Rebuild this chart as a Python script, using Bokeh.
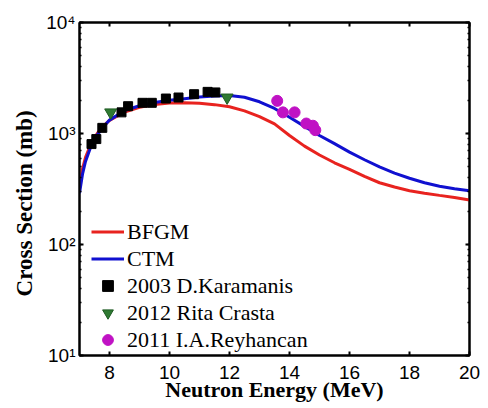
from bokeh.plotting import figure
from bokeh.models import LinearAxis, LogAxis, FixedTicker, Legend, LegendItem, LogTicker, CustomJSTickFormatter
from bokeh.embed import file_html
from bokeh.resources import INLINE

# Model curves (Neutron energy in MeV, cross section in mb)
energy_curve = [7.0, 7.1, 7.2, 7.4, 7.6, 7.8, 8.0, 8.5, 9.0, 9.5, 10.0, 10.5, 11.0, 11.5,
                12.0, 12.5, 13.0, 13.5, 14.0, 14.5, 15.0, 15.5, 16.0, 16.5, 17.0, 17.5,
                18.0, 18.5, 19.0, 19.5, 20.0]
bfgm = [330, 480, 610, 830, 1010, 1170, 1310, 1560, 1720, 1820, 1880, 1890, 1870, 1820,
        1740, 1600, 1420, 1220, 960, 770, 640, 545, 475, 410, 360, 330,
        305, 290, 277, 265, 252]
ctm = [290, 430, 560, 790, 980, 1150, 1320, 1610, 1780, 1900, 1990, 2060, 2130, 2180,
       2200, 2120, 1930, 1680, 1400, 1160, 960, 810, 680, 580, 500, 440,
       395, 360, 335, 318, 305]

# Experimental data
kar_e = [7.40, 7.56, 7.76, 8.40, 8.62, 9.10, 9.41, 9.88, 10.30, 10.82, 11.27, 11.53]
kar_s = [803, 891, 1124, 1550, 1762, 1890, 1890, 2065, 2110, 2260, 2372, 2344]
cra_e = [8.04, 11.92]
cra_s = [1550, 2110]
rey_e = [13.59, 13.78, 14.17, 14.56, 14.78, 14.86]
rey_s = [1968, 1550, 1550, 1230, 1175, 1072]

x_ticks = [8, 10, 12, 14, 16, 18, 20]
y_ticks = [10, 100, 1000, 10000]
y_tick_labels = ["10\u00b9", "10\u00b2", "10\u00b3", "10\u2074"]

p = figure(width=480, height=404, x_range=(7, 20), y_range=(10, 10000),
           y_axis_type="log", output_backend="svg", toolbar_location=None,
           min_border_left=79, min_border_right=11, min_border_top=22, min_border_bottom=48)
p.xgrid.visible = False
p.ygrid.visible = False
p.outline_line_color = "black"
p.outline_line_width = 2

r_bfgm = p.line(energy_curve, bfgm, line_color="#e8231f", line_width=3)
r_ctm = p.line(energy_curve, ctm, line_color="#1010d0", line_width=3)
r_kar = p.scatter(kar_e, kar_s, marker="square", size=9, fill_color="black", line_color="black")
r_cra = p.scatter(cra_e, cra_s, marker="inverted_triangle", size=12,
                  fill_color="#2f7a32", line_color="#1e5a22", line_width=1)
r_rey = p.scatter(rey_e, rey_s, marker="circle", size=11, fill_color="#c012c4", line_color="#c012c4")

tick_font = "Liberation Sans"
label_font = "Liberation Serif"

def style_axis(ax, labels=True):
    ax.axis_line_width = 2
    ax.axis_line_color = "black"
    ax.major_tick_in = 4
    ax.major_tick_out = 0
    ax.major_tick_line_width = 2
    ax.minor_tick_in = 2
    ax.minor_tick_out = 0
    ax.minor_tick_line_width = 1.5
    if labels:
        ax.major_label_text_font = tick_font
        ax.major_label_text_font_size = "19px"
        ax.major_label_text_color = "black"
        ax.axis_label_text_color = "black"
    else:
        ax.formatter = CustomJSTickFormatter(code="return ''")
        ax.major_label_standoff = 0

xb = p.xaxis[0]
xb.ticker = FixedTicker(ticks=x_ticks)
style_axis(xb)
xb.minor_tick_line_color = None
xb.major_label_standoff = 10
xb.axis_label = "Neutron Energy (MeV)"
xb.axis_label_text_font = label_font
xb.axis_label_text_font_style = "bold"
xb.axis_label_text_font_size = "22px"
xb.axis_label_standoff = -5

yl = p.yaxis[0]
style_axis(yl)
yl.ticker = LogTicker(num_minor_ticks=10)
yl.major_label_overrides = {t: s for t, s in zip(y_ticks, y_tick_labels)}
yl.major_label_standoff = 4
yl.axis_label = "Cross Section (mb)" + "\u00a0" * 5
yl.axis_label_text_font = label_font
yl.axis_label_text_font_style = "bold"
yl.axis_label_text_font_size = "23px"
yl.axis_label_standoff = 6

xt = LinearAxis(ticker=FixedTicker(ticks=x_ticks))
style_axis(xt, labels=False)
xt.minor_tick_line_color = None
p.add_layout(xt, "above")

yr = LogAxis(ticker=LogTicker(num_minor_ticks=10))
style_axis(yr, labels=False)
p.add_layout(yr, "right")

legend = Legend(items=[
    LegendItem(label="BFGM", renderers=[r_bfgm]),
    LegendItem(label="CTM", renderers=[r_ctm]),
    LegendItem(label="2003 D.Karamanis", renderers=[r_kar]),
    LegendItem(label="2012 Rita Crasta", renderers=[r_cra]),
    LegendItem(label="2011 I.A.Reyhancan", renderers=[r_rey]),
], location=(12, 2))
legend.border_line_color = None
legend.background_fill_alpha = 0
legend.padding = 0
legend.margin = 0
legend.spacing = 0
legend.glyph_width = 33
legend.glyph_height = 27
legend.label_height = 27
legend.label_standoff = 3
legend.label_text_font = label_font
legend.label_text_font_size = "22px"
legend.label_text_color = "black"
p.add_layout(legend)

open("out.html", "w").write(file_html(p, INLINE))
